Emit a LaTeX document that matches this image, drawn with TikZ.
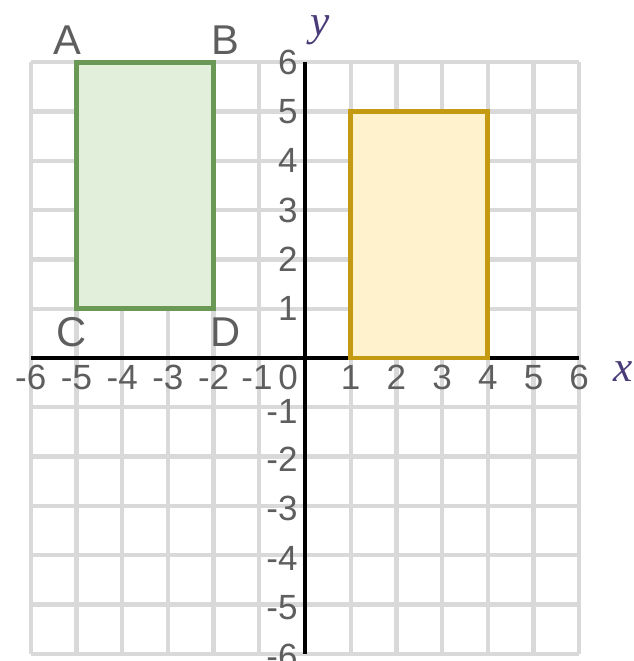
\documentclass[tikz,border=0pt]{standalone}
\usepackage{fontspec}
\setmainfont{Liberation Sans}
\newfontfamily\axisfont{Liberation Serif}

\definecolor{gridgray}{HTML}{D9D9D9}
\definecolor{greenfill}{HTML}{E2EFDA}
\definecolor{greenline}{HTML}{6A9955}
\definecolor{yellowfill}{HTML}{FFF2CC}
\definecolor{yellowline}{HTML}{C49A10}
\definecolor{labelgray}{HTML}{5E5E5E}
\definecolor{axisink}{HTML}{4A3C78}

\begin{document}
\begin{tikzpicture}[x=13.71pt,y=14.79pt,
  tick/.style={font=\fontsize{10.5}{12}\selectfont, text=labelgray, inner sep=0pt},
  corner/.style={font=\fontsize{12.5}{14}\selectfont, text=labelgray, inner sep=0pt},
  axislbl/.style={font=\fontsize{13}{15}\selectfont\axisfont\itshape, text=axisink, inner sep=0pt}]

\useasboundingbox (-6.674,-6.146) rectangle (7.199,7.262);

% grid
\draw[gridgray, line width=1.3pt, step={(1,1)}] (-6,-6) grid (6,6);

% x and y axes
\draw[black, line width=1.4pt] (-6,0) -- (6,0);
\draw[black, line width=1.4pt] (0,6) -- (0,-6);

% the two rectangles
\filldraw[fill=greenfill, draw=greenline, line width=1.4pt] (-5,1) rectangle (-2,6);
\filldraw[fill=yellowfill, draw=yellowline, line width=1.4pt] (1,0) rectangle (4,5);

% corners of the green rectangle
\node[corner] (A) at (-5.21,6.45) {A};
\node[corner] (B) at (-1.75,6.45) {B};
\node[corner] (C) at (-5.10,0.53) {C};
\node[corner] (D) at (-1.73,0.53) {D};

% axis names
\node[axislbl] (xname) at (6.96,-0.28) {x};
\node[axislbl] (yname) at (0.33,6.65) {y};

% numbers on the x axis
\node[tick] (xm6) at (-6,-0.4) {-6};
\node[tick] (xm5) at (-5,-0.4) {-5};
\node[tick] (xm4) at (-4,-0.4) {-4};
\node[tick] (xm3) at (-3,-0.4) {-3};
\node[tick] (xm2) at (-2,-0.4) {-2};
\node[tick] (xm1) at (-1.05,-0.4) {-1};
\node[tick] (orig) at (-0.37,-0.4) {0};
\node[tick] (xp1) at (1,-0.4) {1};
\node[tick] (xp2) at (2,-0.4) {2};
\node[tick] (xp3) at (3,-0.4) {3};
\node[tick] (xp4) at (4,-0.4) {4};
\node[tick] (xp5) at (5,-0.4) {5};
\node[tick] (xp6) at (6,-0.4) {6};

% numbers on the y axis
\node[tick, anchor=east] (yp6) at (-0.15,6) {6};
\node[tick, anchor=east] (yp5) at (-0.15,5) {5};
\node[tick, anchor=east] (yp4) at (-0.15,4) {4};
\node[tick, anchor=east] (yp3) at (-0.15,3) {3};
\node[tick, anchor=east] (yp2) at (-0.15,2) {2};
\node[tick, anchor=east] (yp1) at (-0.15,1) {1};
\node[tick, anchor=east] (ym1) at (-0.15,-1.08) {-1};
\node[tick, anchor=east] (ym2) at (-0.15,-2.06) {-2};
\node[tick, anchor=east] (ym3) at (-0.15,-3.06) {-3};
\node[tick, anchor=east] (ym4) at (-0.15,-4.06) {-4};
\node[tick, anchor=east] (ym5) at (-0.15,-5.06) {-5};
\node[tick, anchor=east] (ym6) at (-0.15,-6.06) {-6};

\end{tikzpicture}
\end{document}
